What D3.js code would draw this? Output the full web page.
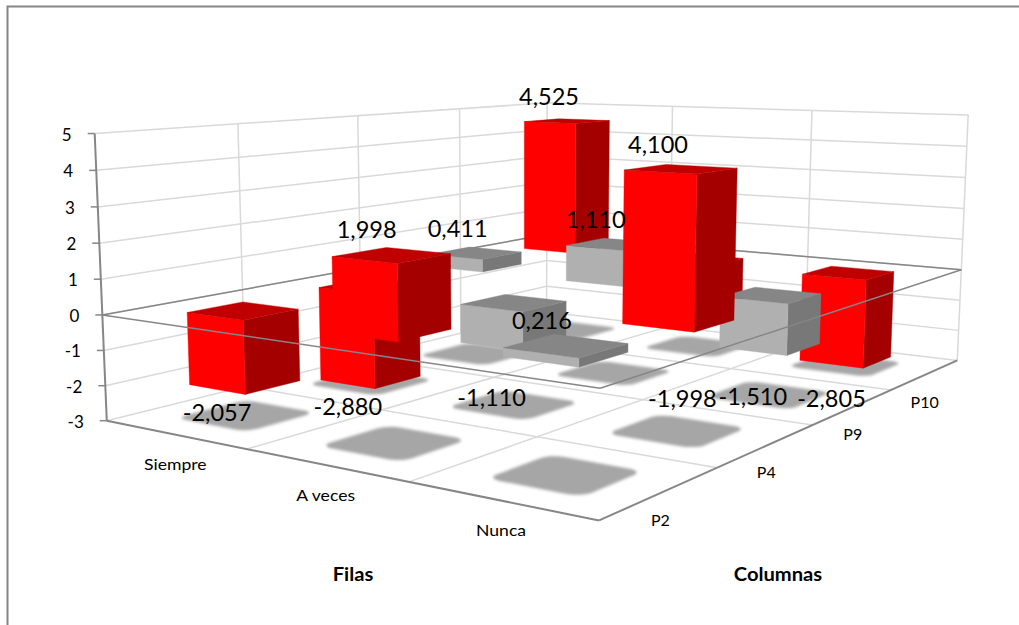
<!DOCTYPE html>
<html lang="es">
<head>
<meta charset="utf-8">
<script src="https://cdn.jsdelivr.net/npm/d3@7"></script>
<style>
  html, body { margin: 0; padding: 0; background: #fff; }
  svg { display: block; }
  text { font-family: Lato, "Open Sans", sans-serif; fill: #000; }
</style>
</head>
<body>
<svg id="chart" width="1019" height="625"></svg>
<script>
// Adjusted residuals by row and column
const rows = ["Siempre", "A veces", "Nunca"];
const columns = ["P2", "P4", "P9", "P10"];
const siempre = [-2.057, -2.880, 0.411, 4.525];
const aVeces = [1.998, -1.110, 1.110, -1.998];
const nunca = [0.216, 4.100, -1.510, -2.805];
const valueTicks = [-3, -2, -1, 0, 1, 2, 3, 4, 5];
const significance = 1.96;

// Screen offset of each value label from the end of its bar, same order as the values
const siempreNudge = [[-28, 30], [-23, 28], [-18, -25], [-18, -25]];
const aVecesNudge = [[-25, -26], [-22, 57], [-19, -25], [-16, 81]];
const nuncaNudge = [[-24, -25], [-23, -25], [-17, 51], [-14, 40]];

const svg = d3.select("#chart");
const W = 1019, H = 625;

// Box of the plot: rows along a, columns along c, values along v
const a = d3.scaleLinear().domain([0, rows.length]).range([0, 3]);
const c = d3.scaleLinear().domain([0, columns.length]).range([0, 4]);
const v = d3.scaleLinear().domain([-3, 5]).range([-3, 5]);
const rowBand = d3.scaleBand().domain(rows).range([0, rows.length]).paddingInner(0.6).paddingOuter(0.3);
const colBand = d3.scaleBand().domain(columns).range([0, columns.length]).paddingInner(0.6).paddingOuter(0.3);

// Where the box corners land on the page; the camera matrix is solved from these
const anchors = [
  [0, 5, 0, 95, 133], [0, 0, 0, 102, 315], [0, -3, 0, 107, 421],
  [3, -3, 0, 599, 520], [3, 0, 0, 600, 389], [3, -3, 4, 957, 360],
  [3, 0, 4, 962, 270], [3, 5, 4, 968, 115], [0, 5, 4, 547, 103]
];

function solveCamera(points) {
  const n = 11;
  const A = d3.range(n).map(() => new Array(n + 1).fill(0));
  const addRow = (row, rhs) => {
    for (let i = 0; i < n; i++) {
      for (let j = 0; j < n; j++) A[i][j] += row[i] * row[j];
      A[i][n] += row[i] * rhs;
    }
  };
  points.forEach(([x, y, z, u, w]) => {
    addRow([x, y, z, 1, 0, 0, 0, 0, -u * x, -u * y, -u * z], u);
    addRow([0, 0, 0, 0, x, y, z, 1, -w * x, -w * y, -w * z], w);
  });
  for (let i = 0; i < n; i++) {
    let p = i;
    for (let r = i + 1; r < n; r++) if (Math.abs(A[r][i]) > Math.abs(A[p][i])) p = r;
    [A[i], A[p]] = [A[p], A[i]];
    for (let r = 0; r < n; r++) {
      if (r === i) continue;
      const f = A[r][i] / A[i][i];
      for (let k = i; k <= n; k++) A[r][k] -= f * A[i][k];
    }
  }
  return A.map((r, i) => r[n] / r[i]);
}

const cam = solveCamera(anchors);
const project = (x, y, z) => {
  const d = cam[8] * x + cam[9] * y + cam[10] * z + 1;
  return [
    (cam[0] * x + cam[1] * y + cam[2] * z + cam[3]) / d,
    (cam[4] * x + cam[5] * y + cam[6] * z + cam[7]) / d
  ];
};
const seg = (p, q) => ({ p: project(...p), q: project(...q) });
const poly = pts => pts.map(p => project(...p).join(",")).join(" ");

// Stretches a text selection sideways by the given factor
function widen(selection, factor) {
  selection.each(function () {
    this.setAttribute("textLength", this.getComputedTextLength() * factor);
    this.setAttribute("lengthAdjust", "spacingAndGlyphs");
  });
}

const defs = svg.append("defs");
defs.append("filter").attr("id", "soft")
  .attr("x", "-10%").attr("y", "-10%").attr("width", "120%").attr("height", "120%")
  .append("feGaussianBlur").attr("stdDeviation", 1.4);

function drawLines(group, data, stroke, width) {
  group.selectAll(null).data(data).join("line")
    .attr("x1", d => d.p[0]).attr("y1", d => d.p[1])
    .attr("x2", d => d.q[0]).attr("y2", d => d.q[1])
    .attr("stroke", stroke).attr("stroke-width", width);
}

// Chart area border, open on the right and at the bottom
svg.append("path").attr("d", `M7.5,${H}V6.5H${W}`)
  .attr("fill", "none").attr("stroke", "#868686").attr("stroke-width", 2);

// Walls and floor grid
const grid = svg.append("g");
const xMax = a.range()[1], zMax = c.range()[1], yMin = v(-3), yMax = v(5);
const gridSegs = [];
valueTicks.forEach(t => {
  gridSegs.push(seg([0, v(t), 0], [0, v(t), zMax]));
  gridSegs.push(seg([0, v(t), zMax], [xMax, v(t), zMax]));
});
d3.range(1, columns.length + 1).forEach(i => {
  gridSegs.push(seg([0, yMin, c(i)], [0, yMax, c(i)]));
  if (i < columns.length) gridSegs.push(seg([0, yMin, c(i)], [xMax, yMin, c(i)]));
});
d3.range(1, rows.length + 1).forEach(i => {
  gridSegs.push(seg([a(i), yMin, zMax], [a(i), yMax, zMax]));
  if (i < rows.length) gridSegs.push(seg([a(i), yMin, 0], [a(i), yMin, zMax]));
});
drawLines(grid, gridSegs, "#d9d9d9", 1.5);

// Axes
const axes = svg.append("g");
drawLines(axes, [
  seg([0, yMin, 0], [0, yMax, 0]),
  seg([0, yMin, 0], [xMax, yMin, 0]),
  seg([xMax, yMin, 0], [xMax, yMin, zMax])
], "#868686", 2);
valueTicks.forEach(t => {
  const [x, y] = project(0, v(t), 0);
  axes.append("line").attr("x1", x - 7).attr("x2", x).attr("y1", y).attr("y2", y)
    .attr("stroke", "#868686").attr("stroke-width", 1.5);
  axes.append("text").attr("x", x - 23).attr("y", y + 7).attr("text-anchor", "end")
    .attr("font-size", 17).text(t);
});

// All cells, painted from the far corner of the box towards the viewer
const series = [siempre, aVeces, nunca];
const nudges = [siempreNudge, aVecesNudge, nuncaNudge];
const cells = [];
rows.forEach((row, i) => columns.forEach((col, j) => cells.push({
  row, col, value: series[i][j], nudge: nudges[i][j], rowIndex: i, colIndex: j
})));
const painted = cells.slice().sort((m, n) => d3.descending(m.colIndex, n.colIndex) || d3.ascending(m.rowIndex, n.rowIndex));

// Rounded soft shadow of each cell on the floor
const shadowLine = d3.line();
function shadowPath(d) {
  const grow = 0.055, r = 0.08;
  const x0 = rowBand(d.row) - grow, x1 = rowBand(d.row) + rowBand.bandwidth() + grow;
  const z0 = colBand(d.col) - grow, z1 = colBand(d.col) + colBand.bandwidth() + grow;
  const corners = [[x1 - r, z1 - r], [x0 + r, z1 - r], [x0 + r, z0 + r], [x1 - r, z0 + r]];
  const pts = [];
  corners.forEach(([cx, cz], q) => {
    d3.range(0, 7).forEach(s => {
      const t = (q + s / 6) * Math.PI / 2;
      pts.push(project(cx + r * Math.cos(t), yMin, cz + r * Math.sin(t)));
    });
  });
  return shadowLine(pts) + "Z";
}
svg.append("g").attr("filter", "url(#soft)")
  .selectAll("path").data(cells).join("path")
  .attr("d", shadowPath).attr("fill", "#a6a6a6");

// Zero plane, rear edges go behind the bars
const y0 = v(0);
drawLines(svg.append("g"), [
  seg([0, y0, 0], [0, y0, zMax]),
  seg([0, y0, zMax], [xMax, y0, zMax])
], "#868686", 1.5);

// Bars as boxes standing on the zero plane
const palette = {
  strong: { front: "#ff0000", top: "#c00000", side: "#a50000" },
  weak: { front: "#b0b0b0", top: "#868686", side: "#787878" }
};
const barsG = svg.append("g");
painted.forEach(d => {
  const x0 = rowBand(d.row), x1 = x0 + rowBand.bandwidth();
  const z0 = colBand(d.col), z1 = z0 + colBand.bandwidth();
  const hi = v(Math.max(0, d.value)), lo = v(Math.min(0, d.value));
  const tone = Math.abs(d.value) > significance ? palette.strong : palette.weak;
  const faces = [
    [[[x1, hi, z0], [x1, hi, z1], [x1, lo, z1], [x1, lo, z0]], tone.side],
    [[[x0, hi, z0], [x1, hi, z0], [x1, lo, z0], [x0, lo, z0]], tone.front],
    [[[x0, hi, z0], [x1, hi, z0], [x1, hi, z1], [x0, hi, z1]], tone.top]
  ];
  faces.forEach(([pts, fill]) => {
    barsG.append("polygon").attr("points", poly(pts))
      .attr("fill", fill).attr("stroke", fill).attr("stroke-width", 0.4);
  });
});

// Zero plane, front edges run over the bars
drawLines(svg.append("g"), [
  seg([0, y0, 0], [xMax, y0, 0]),
  seg([xMax, y0, 0], [xMax, y0, zMax])
], "#868686", 1.5);

// Value labels with a decimal comma
const es = d3.formatLocale({ decimal: ",", thousands: ".", grouping: [3], currency: ["", ""], minus: "-" });
const fmt = es.format(".3f");
svg.append("g").selectAll("text").data(cells).join("text")
  .attr("font-size", 24).attr("text-anchor", "middle")
  .attr("x", d => project(rowBand(d.row) + rowBand.bandwidth() / 2, v(d.value), colBand(d.col) + colBand.bandwidth() / 2)[0] + d.nudge[0])
  .attr("y", d => project(rowBand(d.row) + rowBand.bandwidth() / 2, v(d.value), colBand(d.col) + colBand.bandwidth() / 2)[1] + d.nudge[1] + 8.5)
  .text(d => fmt(d.value))
  .call(widen, 0.98);

// Category labels below the floor edges
const catG = svg.append("g").attr("font-size", 16).attr("text-anchor", "middle");
rows.forEach(r => {
  const [x, y] = project(rowBand(r) + rowBand.bandwidth() / 2, yMin, 0);
  catG.append("text").attr("x", x + 1).attr("y", y + 36).text(r).call(widen, 1.1);
});
columns.forEach(col => {
  const [x, y] = project(xMax, yMin, colBand(col) + colBand.bandwidth() / 2);
  catG.append("text").attr("x", x - 1).attr("y", y + 33).text(col);
});

// Axis titles
const titles = svg.append("g").attr("font-size", 18).attr("font-weight", 700).attr("text-anchor", "middle");
titles.append("text").attr("x", 353).attr("y", 581).text("Filas").call(widen, 1.12);
titles.append("text").attr("x", 778).attr("y", 581).text("Columnas").call(widen, 1.12);
</script>
</body>
</html>
